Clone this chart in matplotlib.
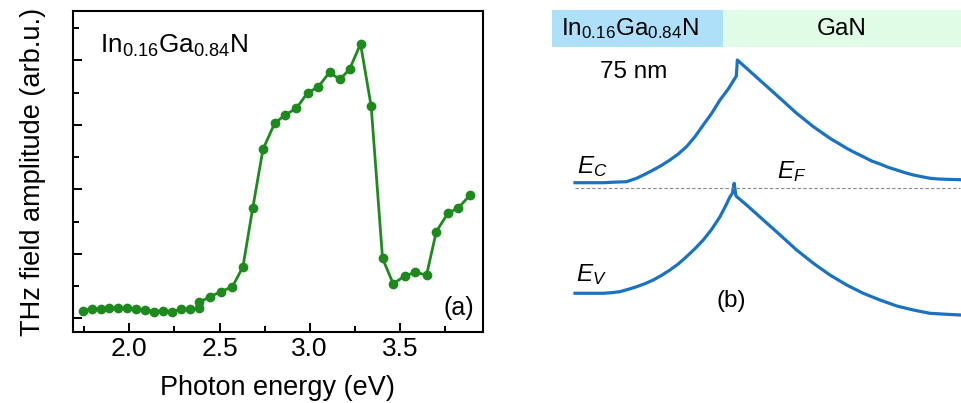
import matplotlib
matplotlib.use("Agg")
import matplotlib.pyplot as plt
import matplotlib.patches as patches
from matplotlib.ticker import MultipleLocator, NullFormatter

plt.rcParams['font.family'] = 'Liberation Sans'
plt.rcParams['mathtext.fontset'] = 'custom'
plt.rcParams['mathtext.rm'] = 'Liberation Sans'
plt.rcParams['mathtext.it'] = 'Liberation Sans:italic'

# --- (a) THz amplitude vs photon energy ---
photon_energy = [1.741, 1.791, 1.841, 1.889, 1.939, 1.989, 2.039, 2.089, 2.139, 2.189,
                 2.239, 2.289, 2.337, 2.389, 2.389, 2.448, 2.509, 2.572, 2.630, 2.684,
                 2.741, 2.806, 2.865, 2.926, 2.989, 3.047, 3.110, 3.167, 3.221, 3.282,
                 3.341, 3.404, 3.463, 3.526, 3.586, 3.648, 3.702, 3.767, 3.825, 3.888]
thz_amplitude = [0.24, 0.29, 0.29, 0.33, 0.31, 0.32, 0.28, 0.26, 0.21, 0.24,
                 0.21, 0.28, 0.28, 0.31, 0.50, 0.67, 0.83, 0.98, 1.60, 3.41,
                 5.24, 6.05, 6.31, 6.51, 7.00, 7.17, 7.63, 7.41, 7.72, 8.51,
                 6.57, 1.86, 1.07, 1.31, 1.43, 1.34, 2.69, 3.26, 3.43, 3.81]

# --- (b) band diagram: position (nm) and energy relative to E_F (eV) ---
ec_pos = [0, 14.4, 18.6, 26.2, 31.3, 35.5, 39.7, 44.0, 48.2, 52.4, 56.6, 60.9, 65.1, 69.4,
          73.6, 77.8, 81.9, 82.4,
          95.6, 104.1, 112.5, 121.0, 129.4, 133.7, 137.9, 142.1, 146.3, 150.6, 154.8, 159.0,
          163.3, 167.5, 171.7, 176.0, 180.2, 184.4, 188.7, 195.4]
ec_energy = [0.146, 0.146, 0.157, 0.172, 0.258, 0.359, 0.467, 0.586, 0.720, 0.871, 1.056, 1.308, 1.604, 1.899,
             2.235, 2.513, 2.841, 3.245,
             2.657, 2.278, 1.899, 1.561, 1.268, 1.141, 1.015, 0.904, 0.803, 0.694, 0.619, 0.535,
             0.467, 0.399, 0.341, 0.298, 0.258, 0.240, 0.232, 0.222]
ev_pos = [0, 14.4, 18.6, 22.8, 27.1, 31.3, 35.5, 39.7, 44.0, 48.2, 52.4, 56.6, 60.9, 65.1, 69.4,
          73.6, 76.1, 78.7, 79.9, 80.8, 81.7,
          87.1, 95.6, 104.1, 112.5, 121.0, 129.4, 137.9, 146.3, 154.8, 163.3, 171.7, 180.2, 188.7, 195.4]
ev_energy = [-2.646, -2.646, -2.631, -2.606, -2.545, -2.480, -2.404, -2.311, -2.192, -2.058, -1.907, -1.722,
             -1.520, -1.301, -1.030, -0.712, -0.475, -0.207, -0.121, 0.131, -0.189,
             -0.417, -0.795, -1.174, -1.553, -1.889, -2.184, -2.437, -2.646, -2.816, -2.967, -3.068,
             -3.152, -3.177, -3.194]
layer_names = [r'In$_{0.16}$Ga$_{0.84}$N', 'GaN']
layer_edges = [-11.7, 75, 196]
layer_colors = ['#aee0fa', '#e0fbe6']

green = '#1e8a1e'
band_blue = '#1a72c2'

fig = plt.figure(figsize=(9.61, 4.03), dpi=100)
W, H = 961, 403
ax1 = fig.add_axes([72.7 / W, 1 - 332 / H, (483 - 72.7) / W, (332 - 11) / H])
ax2 = fig.add_axes([551 / W, 0, 410 / W, 1])

# panel (a)
ax1.plot(photon_energy, thz_amplitude, '-o', color=green, lw=2, ms=6)
ax1.set_xlim(1.686, 3.961)
ax1.set_ylim(-0.425, 9.53)
ax1.xaxis.set_major_locator(MultipleLocator(0.5))
ax1.xaxis.set_minor_locator(MultipleLocator(0.25))
ax1.yaxis.set_major_locator(MultipleLocator(2))
ax1.yaxis.set_minor_locator(MultipleLocator(1))
ax1.yaxis.set_major_formatter(NullFormatter())
ax1.tick_params(which='both', direction='in', width=1.4, labelsize=19)
ax1.tick_params(which='major', length=6.5)
ax1.tick_params(which='minor', length=4)
for s in ax1.spines.values():
    s.set_linewidth(1.5)
ax1.set_xlabel('Photon energy (eV)', fontsize=19.5, labelpad=10)
ax1.set_ylabel('THz field amplitude (arb.u.)', fontsize=19.5, labelpad=16)
ax1.text(1.840, 8.23, r'In$_{0.16}$Ga$_{0.84}$N', fontsize=18.8, ha='left', va='baseline')
ax1.text(3.829, 0.32, '(a)', fontsize=18, ha='center', va='center')

# panel (b)
ax2.set_xlim(-12.18, 195.94)
ax2.set_ylim(-5.417, 4.760)
ax2.axis('off')
for name, x0, x1, c in zip(layer_names, layer_edges[:-1], layer_edges[1:], layer_colors):
    ax2.add_patch(patches.Rectangle((x0, 3.581), x1 - x0, 0.927, fc=c, ec='none'))
    ax2.text((x0 + x1) / 2 + (0 if name == 'GaN' else -3.5), 4.04, name,
             fontsize=17.5, ha='center', va='center')
ax2.plot(ec_pos, ec_energy, color=band_blue, lw=2.3, solid_joinstyle='round')
ax2.plot(ev_pos, ev_energy, color=band_blue, lw=2.3, solid_joinstyle='round')
ax2.plot([0, 195.4], [0, 0], color='#888888', lw=0.8, ls=(0, (3, 2)))
ax2.text(30, 2.95, '75 nm', fontsize=17.5, ha='center', va='center')
ax2.text(1.0, 0.39, r'$E_C$', fontsize=17.5, ha='left', va='baseline')
ax2.text(102.4, 0.265, r'$E_F$', fontsize=17.5, ha='left', va='baseline')
ax2.text(0.5, -2.35, r'$E_V$', fontsize=17.5, ha='left', va='baseline')
ax2.text(79.2, -2.836, '(b)', fontsize=17.5, ha='center', va='center')

fig.savefig('out.png', dpi=100)
